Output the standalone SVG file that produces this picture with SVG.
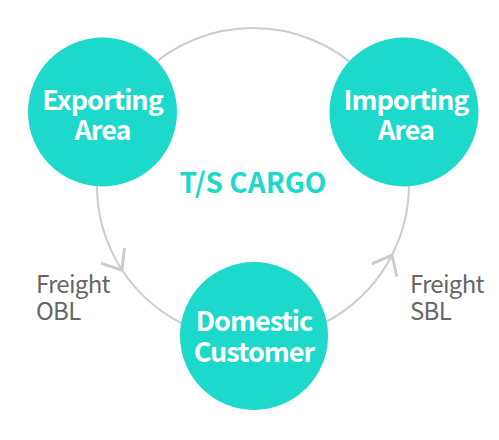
<svg xmlns="http://www.w3.org/2000/svg" width="499" height="440" viewBox="0 0 499 440">
<style>
.node{fill:#1dd9cb}
.lbl{font-family:"Noto Sans CJK KR","Noto Sans",sans-serif;font-weight:bold;font-size:27px;letter-spacing:-1px;fill:#fff;text-anchor:middle}
.title{font-family:"Noto Sans CJK KR","Noto Sans",sans-serif;font-weight:bold;font-size:28px;fill:#1dd9cb;text-anchor:middle}
.edge{font-family:"Noto Sans CJK KR","Noto Sans",sans-serif;font-size:24px;letter-spacing:-0.7px;fill:#666}
.conn{fill:none;stroke:#cccccc;stroke-width:2}
</style>
<defs>
<marker id="chev" markerUnits="userSpaceOnUse" markerWidth="40" markerHeight="40" refX="20" refY="20" orient="auto" overflow="visible">
<path d="M3,6 L20,20 L3,34" fill="none" stroke="#cccccc" stroke-width="3"/>
</marker>
</defs>
<g id="connectors">
<path class="conn" d="M409,184 A156,156 0 0 0 97,184"/>
<path class="conn" d="M97,184 A156,156 0 0 0 122,270 A156,156 0 0 0 253,340" marker-mid="url(#chev)"/>
<path class="conn" d="M253,340 A156,156 0 0 0 392,255 A156,156 0 0 0 409,184" marker-mid="url(#chev)"/>
</g>
<g id="exporting">
<circle class="node" cx="102.5" cy="112" r="74.5"/>
<text class="lbl" x="102.5" y="110">Exporting</text>
<text class="lbl" x="102.5" y="140">Area</text>
</g>
<g id="importing">
<circle class="node" cx="404" cy="112" r="74.5"/>
<text class="lbl" x="406" y="110">Importing</text>
<text class="lbl" x="406" y="140">Area</text>
</g>
<g id="domestic">
<circle class="node" cx="254" cy="336" r="74"/>
<text class="lbl" x="254" y="331">Domestic</text>
<text class="lbl" x="254" y="362">Customer</text>
</g>
<g id="title">
<text class="title" x="253" y="193">T/S CARGO</text>
</g>
<g id="labels">
<text class="edge" x="36" y="293">Freight</text>
<text class="edge" x="36" y="320">OBL</text>
<text class="edge" x="410" y="293">Freight</text>
<text class="edge" x="410" y="320">SBL</text>
</g>
</svg>
